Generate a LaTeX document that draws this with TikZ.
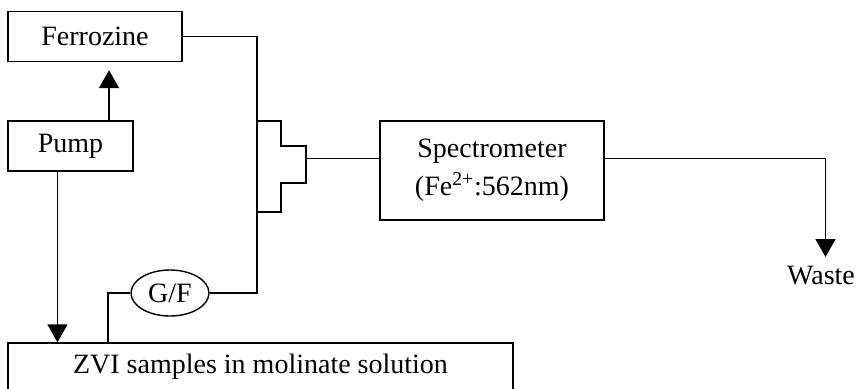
\documentclass[tikz,border=0pt]{standalone}
\usepackage{fontspec}
\setmainfont{Liberation Serif}
\usetikzlibrary{shapes.geometric,arrows.meta}

\begin{document}
\begin{tikzpicture}[x=0.5pt,y=-0.5pt,line width=0.7pt,
            unit/.style={draw,rectangle,inner sep=0pt,font=\fontsize{14}{19}\selectfont},
            filter/.style={draw,ellipse,inner sep=0pt,minimum width=39pt,minimum height=23pt,font=\fontsize{14}{16}\selectfont},
            label/.style={inner sep=1pt,font=\fontsize{14}{16}\selectfont},
            flow/.style={-{Triangle[length=9pt,width=10pt]}}]
            \useasboundingbox (0,0) rectangle (857,388); \clip (0,0) rectangle (857,388);
            \node[unit,minimum width=87pt,minimum height=25pt] (ferro) at (95,36.5) {Ferrozine};
            \node[unit,minimum width=62.5pt,minimum height=25pt] (pump) at (70.5,146) {Pump};
            \node[unit,minimum width=112pt,minimum height=49.5pt,align=center] (spec) at (492,170.5) {Spectrometer\\(Fe\textsuperscript{2+}:562nm)};
            \node[unit,minimum width=252.5pt,minimum height=24pt] (zvi) at (260.5,367) {ZVI samples in molinate solution};
            \node[filter] (gf) at (170,293) {G/F};
            \node[label,anchor=north] (waste) at (821,263) {Waste};

            \draw (257,121) coordinate (mixin) -- (281,121) -- (281,146) -- (306,146) -- (306,183) -- (281,183) -- (281,212) -- (257,212) coordinate (mixret) -- cycle;
            \coordinate (mixout) at (306,158.5);
            \coordinate (upx) at (109,0); \coordinate (downx) at (57.5,0); \coordinate (drawx) at (108,0); \coordinate (drainx) at (825.5,0);

            \draw (ferro.east) -| (mixin);
            \draw[flow,shorten >=4pt] (pump.north -| upx) -- (ferro.south -| upx);
            \draw[flow] (pump.south -| downx) -- (zvi.north -| downx);
            \draw (zvi.north -| drawx) |- (gf.west); \draw (gf.east) -| (mixret);
            \draw (mixout) -- (mixout -| spec.west);
            \draw[flow,shorten >=3pt] (mixout -| spec.east) -| (waste.north -| drainx);
        \end{tikzpicture}
\end{document}
